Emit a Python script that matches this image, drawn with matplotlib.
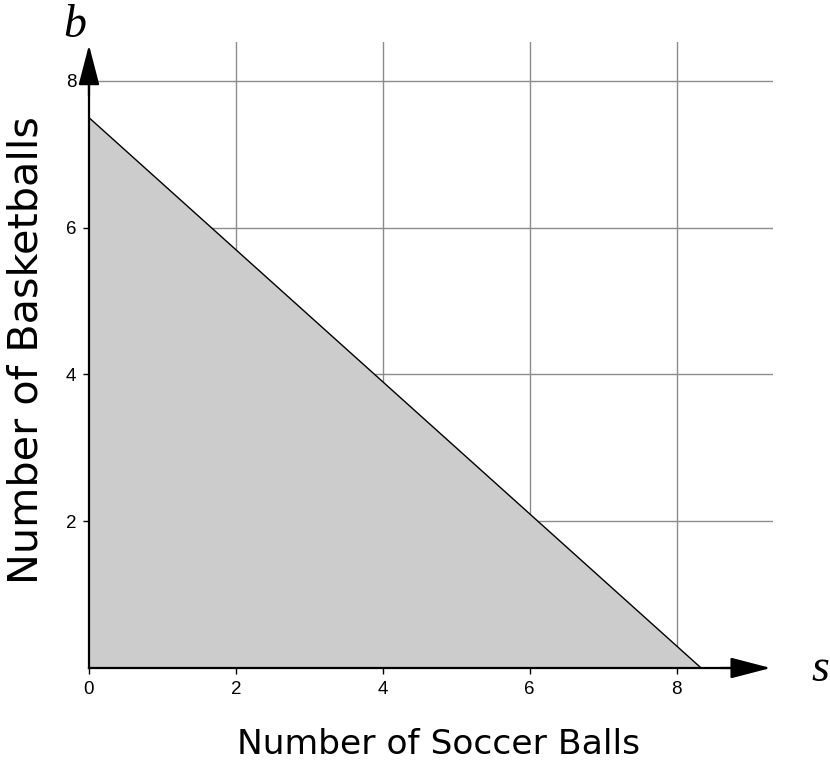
import matplotlib.pyplot as plt
import numpy as np

# boundary line 9s + 10b = 75
s_vals = [0, 75 / 9]
b_vals = [7.5, 0]
x_ticks = [0, 2, 4, 6, 8]
y_ticks = [2, 4, 6, 8]
x_max, y_max = 9.31, 8.53

fig = plt.figure(figsize=(8.3, 7.63), dpi=100)
ax = fig.add_axes([0.1072, 0.1245, 0.824, 0.8204])
ax.set_xlim(0, x_max)
ax.set_ylim(0, y_max)

# grid
for xt in x_ticks[1:]:
    ax.axvline(xt, color="#8c8c8c", lw=1.0, zorder=1)
for yt in y_ticks:
    ax.axhline(yt, color="#8c8c8c", lw=1.0, zorder=1)

# feasible region
ax.fill_between(s_vals, b_vals, 0, color="#cccccc", zorder=2, lw=0)
ax.plot(s_vals, b_vals, color="black", lw=1.0, zorder=3)

for sp in ["top", "right"]:
    ax.spines[sp].set_visible(False)
for sp in ["left", "bottom"]:
    ax.spines[sp].set_linewidth(1.6)
    ax.spines[sp].set_zorder(4)
ax.spines["bottom"].set_bounds(0, 9.2)
ax.spines["left"].set_bounds(0, 8.4)

# axis arrows
arrow_style = "-|>,head_length=2.5,head_width=0.65"
ax.annotate("", xy=(9.28, 0), xytext=(8.6, 0),
            arrowprops=dict(arrowstyle=arrow_style, color="black", lw=1.6,
                            shrinkA=0, shrinkB=0),
            annotation_clip=False, zorder=5)
ax.annotate("", xy=(0, 8.49), xytext=(0, 7.8),
            arrowprops=dict(arrowstyle=arrow_style, color="black", lw=1.6,
                            shrinkA=0, shrinkB=0),
            annotation_clip=False, zorder=5)

ax.set_xticks(x_ticks)
ax.set_yticks(y_ticks)
ax.tick_params(axis="both", length=4, width=1, pad=5, labelsize=13.5,
               labelfontfamily="Liberation Sans")

fig.text(438 / 830, 1 - 745 / 763, "Number of Soccer Balls", fontsize=24.8,
         ha="center", va="center")
fig.text(27 / 830, 1 - 350 / 763, "Number of Basketballs", fontsize=29.8,
         rotation=90, ha="center", va="center")

fig.text(75 / 830, 1 - 26 / 763, "b", fontsize=33, style="italic",
         family="Liberation Serif", ha="center", va="center")
fig.text(820 / 830, 1 - 670 / 763, "s", fontsize=33, style="italic",
         family="Liberation Serif", ha="center", va="center")

fig.savefig("out.png", dpi=100)
